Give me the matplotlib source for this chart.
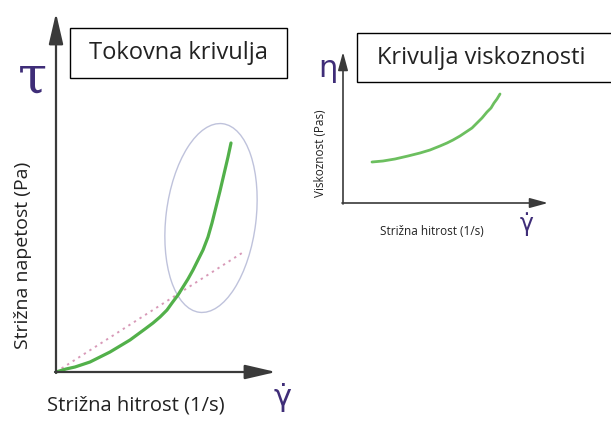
import matplotlib.pyplot as plt
from matplotlib.patches import Ellipse, Rectangle

# everything in pixel units of the 611x428 canvas (y down)

# left: tokovna krivulja
flow_x = [56, 66, 75, 90, 100, 110, 120, 130, 145, 153, 160, 167, 172, 178, 183,
          188, 193, 197, 203, 208, 212, 216, 220, 224, 228, 231]
flow_y = [372, 369, 367, 362, 357, 352, 346, 340, 329, 323, 317, 310, 303, 295, 287,
          279, 270, 262, 250, 237, 223, 207, 191, 174, 157, 143]
newton_x = [56, 242]
newton_y = [372, 253]

# right: krivulja viskoznosti
visc_x = [372, 383, 395, 408, 420, 430, 440, 447, 453, 460, 466, 472, 477, 482, 487, 491, 494, 497, 500]
visc_y = [162, 161, 159, 156, 153, 150, 146, 143, 140, 136, 132, 128, 123, 118, 112, 108, 103, 99, 94]

purple = '#3f2d78'
green = '#52b04a'
axis_col = '#3a3a3a'
font = 'Open Sans'

fig = plt.figure(figsize=(6.11, 4.28), dpi=100)
ax = fig.add_axes([0, 0, 1, 1])
ax.set_xlim(0, 611)
ax.set_ylim(428, 0)
ax.axis('off')


def arrow(x0, y0, x1, y1, hl, hw, lw):
    ax.annotate('', xy=(x1, y1), xytext=(x0, y0),
                arrowprops=dict(arrowstyle='-|>,head_length=%s,head_width=%s' % (hl, hw),
                                color=axis_col, lw=lw, mutation_scale=20,
                                shrinkA=0, shrinkB=0))


# left diagram
arrow(56, 373, 56, 13, 0.95, 0.22, 1.6)
arrow(55, 372, 276, 372, 0.95, 0.22, 1.6)

ax.add_patch(Ellipse((211, 218), 90, 190, angle=7, fill=False,
                     edgecolor='#b8bcd8', lw=1.0, alpha=0.9))
ax.plot(newton_x, newton_y, color='#d89ab8', lw=1.4, ls=(0, (1.2, 2.2)))
ax.plot(flow_x, flow_y, color=green, lw=2.3, solid_capstyle='round',
        solid_joinstyle='round')

ax.add_patch(Rectangle((70, 28), 217, 50, fill=False, edgecolor='black', lw=1.0))
ax.text(178, 53, 'Tokovna krivulja', fontsize=17, family=font,
        ha='center', va='center', color='#222222')

ax.text(32, 78, 'τ', fontsize=38, family='DejaVu Serif', color=purple,
        ha='center', va='center')
ax.text(283, 397, 'γ\u0307', fontsize=22, family='DejaVu Sans', color=purple,
        ha='center', va='center')
ax.text(23, 255, 'Strižna napetost (Pa)', fontsize=14, family=font,
        rotation=90, ha='center', va='center', color='#222222')
ax.text(136, 405, 'Strižna hitrost (1/s)', fontsize=14.5, family=font,
        ha='center', va='center', color='#222222')

# right diagram
arrow(343, 204, 343, 52, 0.55, 0.15, 1.2)
arrow(342, 203, 548, 203, 0.55, 0.15, 1.2)
ax.plot(visc_x, visc_y, color='#6cbf5f', lw=2.0, solid_capstyle='round',
        solid_joinstyle='round')

ax.add_patch(Rectangle((357, 33), 260, 49, fill=False, edgecolor='black', lw=1.0))
ax.text(377, 58, 'Krivulja viskoznosti', fontsize=17, family=font,
        ha='left', va='center', color='#222222')

ax.text(328, 68, 'η', fontsize=22, family='DejaVu Sans', color=purple,
        ha='center', va='center')
ax.text(527, 224, 'γ\u0307', fontsize=17, family='DejaVu Sans', color=purple,
        ha='center', va='center')
ax.text(320, 153, 'Viskoznost (Pas)', fontsize=8.5, family=font,
        rotation=90, ha='center', va='center', color='#222222')
ax.text(432, 231, 'Strižna hitrost (1/s)', fontsize=8.5, family=font,
        ha='center', va='center', color='#222222')

fig.savefig('out.png', dpi=100)
